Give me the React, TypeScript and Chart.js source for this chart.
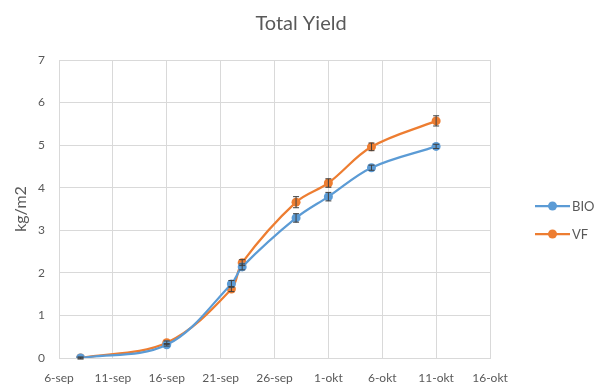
import { useEffect, useRef } from 'react';
import { Chart, registerables } from 'chart.js';

Chart.register(...registerables);

// x values are days after 6-sep
const xTickLabels = ['6-sep', '11-sep', '16-sep', '21-sep', '26-sep', '1-okt', '6-okt', '11-okt', '16-okt'];
const sampleDays = [2, 10, 16, 17, 22, 25, 29, 35];
const bioValues = [0, 0.31, 1.74, 2.14, 3.29, 3.79, 4.47, 4.97];
const bioErrors = [0.02, 0.03, 0.08, 0.07, 0.1, 0.1, 0.06, 0.05];
const vfValues = [0, 0.36, 1.62, 2.24, 3.66, 4.11, 4.96, 5.57];
const vfErrors = [0.02, 0.04, 0.06, 0.07, 0.13, 0.1, 0.09, 0.12];
const seriesNames = ['BIO', 'VF'];
const seriesColors = ['#5B9BD5', '#ED7D31'];
const seriesErrors = [bioErrors, vfErrors];
const chartTitle = 'Total Yield';

const FONT = 'Lato, "Open Sans", sans-serif';
const TEXT = '#595959';
const GRID = '#D9D9D9';

const errorBarPlugin = {
  id: 'errorBars',
  afterDatasetsDraw(chart: any) {
    const ctx = chart.ctx;
    const yScale = chart.scales.y;
    ctx.save();
    ctx.strokeStyle = '#404040';
    ctx.lineWidth = 1;
    chart.data.datasets.forEach((ds: any, di: number) => {
      const meta = chart.getDatasetMeta(di);
      const errs = seriesErrors[di];
      meta.data.forEach((pt: any, i: number) => {
        const v = ds.data[i].y;
        const e = errs[i];
        const x = pt.x;
        const yTop = yScale.getPixelForValue(v + e);
        const yBot = yScale.getPixelForValue(v - e);
        ctx.beginPath();
        ctx.moveTo(x, yTop);
        ctx.lineTo(x, yBot);
        ctx.moveTo(x - 3, yTop);
        ctx.lineTo(x + 3, yTop);
        ctx.moveTo(x - 3, yBot);
        ctx.lineTo(x + 3, yBot);
        ctx.stroke();
      });
    });
    ctx.restore();
  },
};

const titleAndLegendPlugin = {
  id: 'titleAndLegend',
  afterDraw(chart: any) {
    const ctx = chart.ctx;
    ctx.save();
    ctx.fillStyle = TEXT;
    ctx.font = `20px ${FONT}`;
    ctx.textAlign = 'center';
    ctx.textBaseline = 'middle';
    ctx.fillText(chartTitle, 301, 24);

    const rows = [206, 234];
    seriesNames.forEach((name, i) => {
      const y = rows[i];
      ctx.strokeStyle = seriesColors[i];
      ctx.lineWidth = 2.25;
      ctx.beginPath();
      ctx.moveTo(535, y);
      ctx.lineTo(570, y);
      ctx.stroke();
      ctx.fillStyle = seriesColors[i];
      ctx.beginPath();
      ctx.arc(552.5, y, 4.5, 0, Math.PI * 2);
      ctx.fill();
      ctx.fillStyle = TEXT;
      ctx.font = `13px ${FONT}`;
      ctx.textBaseline = 'middle';
      ctx.textAlign = 'left';
      ctx.fillText(name, 572, y + 0.5);
    });
    ctx.restore();
  },
};

export default function App() {
  const ref = useRef<HTMLCanvasElement>(null);
  useEffect(() => {
    if (!ref.current) return;
    const datasets = [bioValues, vfValues].map((vals, si) => ({
      label: seriesNames[si],
      data: vals.map((v, i) => ({ x: sampleDays[i], y: v })),
      borderColor: seriesColors[si],
      backgroundColor: seriesColors[si],
      borderWidth: 2.25,
      pointRadius: 4.5,
      pointBorderWidth: 0,
      pointBackgroundColor: seriesColors[si],
      tension: 0.35,
    }));
    const chart = new Chart(ref.current, {
      type: 'line',
      data: { datasets },
      plugins: [errorBarPlugin, titleAndLegendPlugin],
      options: {
        animation: false,
        responsive: false,
        layout: { padding: { left: 0, right: 108, top: 60, bottom: 0 } },
        plugins: {
          legend: { display: false },
          tooltip: { enabled: false },
          title: { display: false },
        },
        scales: {
          x: {
            type: 'linear',
            min: 0,
            max: 40,
            afterFit: (s: any) => { s.height = 29; },
            afterBuildTicks: (s: any) => {
              s.ticks = xTickLabels.map((_, i) => ({ value: i * 5 }));
            },
            ticks: {
              color: TEXT,
              font: { family: FONT, size: 12 },
              padding: 13,
              maxRotation: 0,
              autoSkip: false,
              callback: (v: any) => xTickLabels[Math.round(Number(v) / 5)] ?? '',
            },
            grid: { color: GRID, lineWidth: 1, drawTicks: false },
            border: { color: GRID },
          },
          y: {
            min: 0,
            max: 7,
            afterFit: (s: any) => { s.width = 59; },
            ticks: {
              stepSize: 1,
              color: TEXT,
              font: { family: FONT, size: 12 },
              padding: 14,
            },
            grid: { color: GRID, lineWidth: 1, drawTicks: false },
            border: { color: GRID },
            title: {
              display: true,
              text: 'kg/m2',
              color: TEXT,
              font: { family: FONT, size: 16 },
              padding: { top: 11, bottom: 0 },
            },
          },
        },
      } as any,
    });
    return () => chart.destroy();
  }, []);
  return (
    <div style={{ position: 'absolute', left: 0, top: 0, width: 598, height: 387, background: '#fff' }}>
      <canvas ref={ref} width={598} height={387} style={{ display: 'block' }} />
    </div>
  );
}
